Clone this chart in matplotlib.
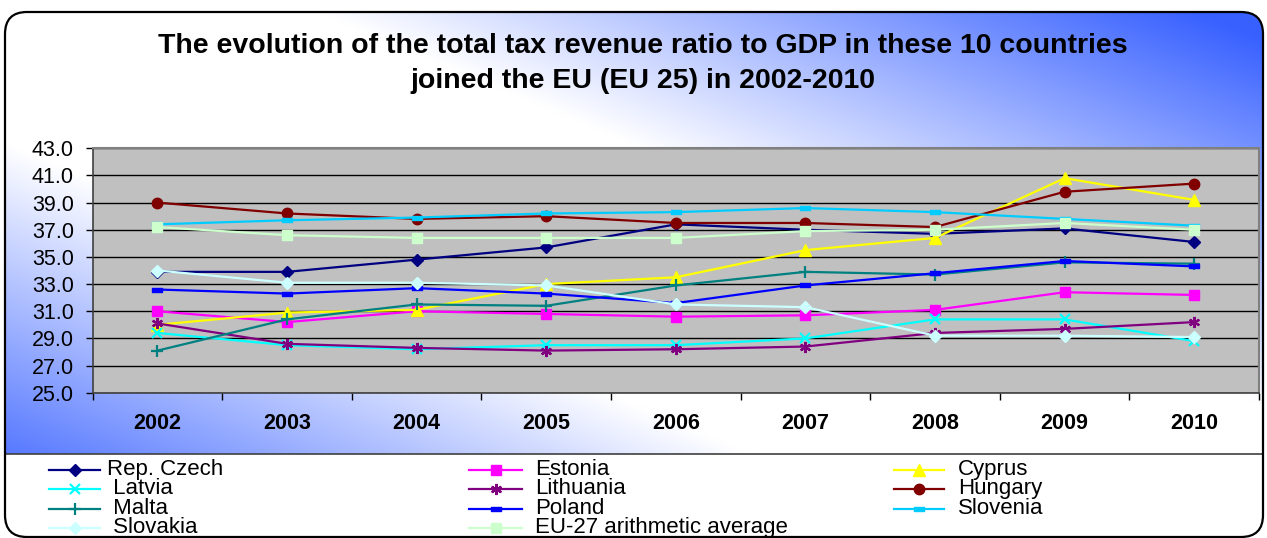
import numpy as np
import matplotlib
matplotlib.use("Agg")
import matplotlib.pyplot as plt
from matplotlib.patches import FancyBboxPatch, Rectangle
from matplotlib.path import Path

# ---------------- data ----------------
years = ["2002", "2003", "2004", "2005", "2006", "2007", "2008", "2009", "2010"]
rep_czech = [33.9, 33.9, 34.8, 35.7, 37.4, 37.0, 36.7, 37.1, 36.1]
estonia   = [31.0, 30.2, 31.0, 30.8, 30.6, 30.7, 31.1, 32.4, 32.2]
cyprus    = [30.0, 30.9, 31.1, 33.0, 33.5, 35.5, 36.4, 40.8, 39.2]
latvia    = [29.4, 28.5, 28.2, 28.5, 28.5, 29.0, 30.4, 30.4, 28.8]
lithuania = [30.1, 28.6, 28.3, 28.1, 28.2, 28.4, 29.4, 29.7, 30.2]
hungary   = [39.0, 38.2, 37.8, 38.0, 37.5, 37.5, 37.2, 39.8, 40.4]
malta     = [28.1, 30.4, 31.5, 31.4, 32.9, 33.9, 33.7, 34.6, 34.5]
poland    = [32.6, 32.3, 32.7, 32.3, 31.6, 32.9, 33.8, 34.7, 34.3]
slovenia  = [37.4, 37.7, 37.9, 38.2, 38.3, 38.6, 38.3, 37.8, 37.3]
slovakia  = [34.0, 33.1, 33.1, 32.9, 31.5, 31.3, 29.2, 29.2, 29.1]
eu27_avg  = [37.2, 36.6, 36.4, 36.4, 36.4, 36.9, 37.0, 37.5, 37.0]

labels = ["Rep. Czech", "Estonia", "Cyprus", " Latvia", "Lithuania", "Hungary",
          " Malta", "Poland", "Slovenia", " Slovakia", "EU-27 arithmetic average"]
series = [rep_czech, estonia, cyprus, latvia, lithuania, hungary,
          malta, poland, slovenia, slovakia, eu27_avg]
y_ticks = [25.0, 27.0, 29.0, 31.0, 33.0, 35.0, 37.0, 39.0, 41.0, 43.0]

title_lines = ["The evolution of the total tax revenue ratio to GDP in these 10 countries",
               "joined the EU (EU 25) in 2002-2010"]

# ---------------- styles ----------------
dash = Path([(-1, -0.33), (1, -0.33), (1, 0.33), (-1, 0.33), (-1, -0.33)],
            [Path.MOVETO, Path.LINETO, Path.LINETO, Path.LINETO, Path.CLOSEPOLY])
styles = [
    dict(color="#000080", marker="D", ms=6.5),
    dict(color="#ff00ff", marker="s", ms=6.5),
    dict(color="#ffff00", marker="^", ms=8.5),
    dict(color="#00ffff", marker="x", ms=7.5, mew=1.6),
    dict(color="#800080", marker=(6, 2, 0), ms=8, mew=1.6),
    dict(color="#800000", marker="o", ms=7.5),
    dict(color="#008080", marker="+", ms=8, mew=1.6),
    dict(color="#0000ff", marker=dash, ms=7),
    dict(color="#00ccff", marker=dash, ms=7),
    dict(color="#ccffff", marker="D", ms=6.5),
    dict(color="#ccffcc", marker="s", ms=6.5),
]

W, H = 1267, 538
fig = plt.figure(figsize=(W / 100, H / 100), dpi=100)
plt.rcParams['font.family'] = ['Liberation Sans', 'DejaVu Sans']

# ---------------- background / frame ----------------
bg = fig.add_axes([0, 0, 1, 1], zorder=0)
bg.set_xlim(0, W)
bg.set_ylim(H, 0)
bg.axis("off")

x0, y0, x1, y1 = 5, 12, 1263, 537
xs = np.linspace(0, 1, 400)
ys = np.linspace(0, 1, 200)
U, V = np.meshgrid(xs, ys)
t = np.abs(U - V)
s = np.clip((t - 0.25) / 0.7, 0, 1)
blue = np.array([0.22, 0.38, 1.0])
img = (1 - s[..., None]) * np.array([1, 1, 1]) + s[..., None] * blue
frame = FancyBboxPatch((x0, y0), x1 - x0, y1 - y0,
                       boxstyle="round,pad=0,rounding_size=22",
                       facecolor="none", edgecolor="black", lw=1.6, zorder=5)
bg.add_patch(frame)
im = bg.imshow(img, extent=(x0, x1, y1, y0), aspect="auto", zorder=1, interpolation="bilinear")
im.set_clip_path(frame)
leg_box = Rectangle((x0, 454), x1 - x0, y1 - 454, facecolor="white", edgecolor="none", zorder=2)
bg.add_patch(leg_box)
leg_box.set_clip_path(frame)
bg.plot([x0, x1], [454, 454], color="#404040", lw=1.2, zorder=3)

# title
bg.text(643, 53, title_lines[0], ha="center", va="baseline", fontsize=20.5,
        fontweight="bold", zorder=6)
bg.text(643, 88, title_lines[1], ha="center", va="baseline", fontsize=20.5,
        fontweight="bold", zorder=6)

# ---------------- plot area ----------------
pl, pr, pt, pb = 92.7, 1259, 148.3, 392.7
ax = fig.add_axes([pl / W, 1 - pb / H, (pr - pl) / W, (pb - pt) / H], zorder=2)
ax.set_facecolor("#c0c0c0")
x = np.arange(len(years))
for vals, lab, st in zip(series, labels, styles):
    ax.plot(x, vals, color=st["color"], lw=1.6, marker=st["marker"], ms=st["ms"],
            mfc=st["color"], mec=st["color"], mew=st.get("mew", 1.0), label=lab)

ax.set_xlim(-0.5, len(years) - 0.5)
ax.set_ylim(25, 43)
ax.set_yticks(y_ticks)
ax.set_yticklabels([f"{v:.1f}" for v in y_ticks], fontsize=15.5)
ax.yaxis.grid(True, color="black", lw=1.0)
ax.set_axisbelow(True)
ax.set_xticks(x)
ax.set_xticklabels(years, fontsize=15.5, fontweight="bold")
ax.set_xticks(np.arange(-0.5, len(years)), minor=True)
ax.tick_params(axis="x", which="major", length=0, pad=14.5)
ax.tick_params(axis="x", which="minor", length=5, width=1, direction="out", color="black")
ax.tick_params(axis="y", length=5, width=1, direction="out", pad=8.5, color="black")
for side in ["top", "right"]:
    ax.spines[side].set_color("#808080")
    ax.spines[side].set_linewidth(1.5)
for side in ["left", "bottom"]:
    ax.spines[side].set_color("#404040")
    ax.spines[side].set_linewidth(1.2)

# ---------------- legend (3 columns, row-wise order) ----------------
col_line = [(49, 100), (469, 522), (894, 944)]
col_text = [107, 535, 958]
row_line_y = [470, 489.3, 508.6, 528]
for i, (lab, st) in enumerate(zip(labels, styles)):
    r, c = divmod(i, 3)
    lx0, lx1 = col_line[c]
    ly = row_line_y[r]
    bg.plot([lx0, (lx0 + lx1) / 2, lx1], [ly, ly, ly], color=st["color"], lw=1.6,
            marker=st["marker"], ms=st["ms"], mfc=st["color"], mec=st["color"],
            mew=st.get("mew", 1.0), markevery=[1], zorder=6)
    bg.text(col_text[c], ly + 5, lab, fontsize=16, va="baseline", ha="left", zorder=6)

fig.savefig("out.png", dpi=100)
